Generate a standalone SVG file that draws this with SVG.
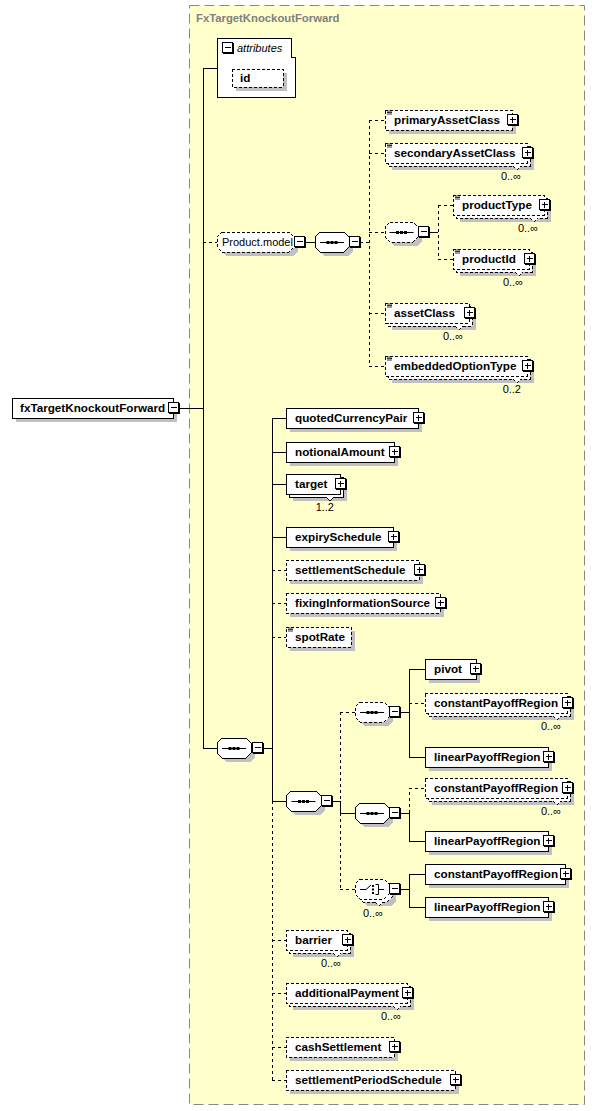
<svg xmlns="http://www.w3.org/2000/svg" xmlns:xlink="http://www.w3.org/1999/xlink" width="596" height="1111" viewBox="0 0 596 1111">
<style>
.box{fill:#fff;stroke:#000;stroke-width:1;shape-rendering:crispEdges}
.o{stroke-dasharray:3 2}
.sh{fill:#c0c0c0;stroke:none;shape-rendering:crispEdges}
.el{font-family:"Liberation Sans",Arial,sans-serif;font-weight:bold;font-size:11.7px;fill:#000}
.tx{font-family:"Liberation Sans",Arial,sans-serif;font-size:11px;fill:#000}
.it{font-family:"Liberation Sans",Arial,sans-serif;font-style:italic;font-size:11px;fill:#000}
.card{font-family:"Liberation Sans",Arial,sans-serif;font-size:11px;fill:#000;text-anchor:end}
.ln{fill:none;stroke:#000;stroke-width:1;shape-rendering:crispEdges}
.dl{fill:none;stroke:#000;stroke-width:1;stroke-dasharray:3 3;shape-rendering:crispEdges}
.ttl{font-family:"Liberation Sans",Arial,sans-serif;font-weight:bold;font-size:11.3px;fill:#808080}
</style>
<defs>
<g id="plus"><rect x="1" y="1" width="11" height="11" fill="#000" shape-rendering="crispEdges"/><rect x="0.5" y="0.5" width="10" height="10" fill="#fff" stroke="#000" shape-rendering="crispEdges"/><path d="M2.5 5.5H8.5M5.5 2.5V8.5" stroke="#000" shape-rendering="crispEdges"/></g>
<g id="minus"><rect x="1" y="1" width="11" height="11" fill="#000" shape-rendering="crispEdges"/><rect x="0.5" y="0.5" width="10" height="10" fill="#fff" stroke="#000" shape-rendering="crispEdges"/><path d="M2.5 5.5H8.5" stroke="#000" shape-rendering="crispEdges"/></g>
<g id="simp"><path d="M2 1H7M2 2.5H7M2 4H7" stroke="#000" stroke-width="0.8"/></g>
<g id="seqi"><path d="M0 0.5H24" stroke="#000"/><rect x="6.5" y="-1" width="3" height="3" fill="#000"/><rect x="10.5" y="-1" width="3" height="3" fill="#000"/><rect x="14.5" y="-1" width="3" height="3" fill="#000"/></g>
<g id="choi"><path d="M0 0.5H6L11 -4" stroke="#000" fill="none"/><rect x="12" y="-4" width="2" height="2" fill="#000"/><rect x="12" y="-0.5" width="2" height="2" fill="#000"/><rect x="12" y="3" width="2" height="2" fill="#000"/><path d="M15.5 -4.5H18.5V5.5H15.5M18.5 0.5H24" stroke="#000" fill="none"/></g>
</defs>

<rect x="189.5" y="5.5" width="395" height="1099" fill="#ffffcc" stroke="#888" stroke-dasharray="10 5"/>
<text class="ttl" x="196" y="22">FxTargetKnockoutForward</text>

<g id="connectors">
<path class="ln" d="M179 408H203M203 68V748M203 68H217M203 748H217M305 242H315M429 232H438M263 748H272M272 418V801M272 418H286M272 452H286M272 484H286M272 537H286M272 801H286M332 801H340M340 801V813M340 813H355M400 712H409M409 669V757M409 669H425M409 757H425M400 813H409M409 813V841M409 841H425M400 889H409M409 874V907M409 874H425M409 907H425"/>
<path class="dl" d="M203 242H217M360 242H369M369 120V366M369 120H385M369 153H385M369 232H385M369 313H385M369 366H385M438 205V259M438 205H453M438 259H453M272 801V1080M272 570H286M272 603H286M272 637H286M272 940H286M272 993H286M272 1047H286M272 1080H286M340 712V801M340 813V889M340 712H355M340 889H355M409 703H425M409 813V788M409 788H425"/>
</g>

<g id="fxTargetKnockoutForward">
<rect class="sh" x="16" y="402" width="161" height="20"/>
<rect class="box" x="12" y="398" width="161" height="20"/>
<text class="el" x="20" y="412">fxTargetKnockoutForward</text>
<use href="#minus" x="168" y="402"/>
</g>

<g id="attributes">
<polygon class="box" points="217,38 291,38 291,57 295,57 295,97 217,97"/>
<use href="#minus" x="222" y="42"/>
<text class="it" x="237" y="52">attributes</text>
</g>
<g id="id">
<rect class="sh" x="236" y="73" width="51" height="18"/>
<rect class="box o" x="232" y="69" width="51" height="18"/>
<text class="el" x="240" y="82">id</text>
</g>

<g id="Product.model">
<polygon class="sh" points="226,236 293,236 298,241 298,251 293,256 226,256 221,251 221,241"/>
<polygon class="box o" points="222,232 289,232 294,237 294,247 289,252 222,252 217,247 217,237"/>
<text class="tx" x="222" y="246">Product.model</text>
<use href="#minus" x="294" y="236"/>
</g>

<g id="seqProductModel">
<polygon class="sh" points="324,236 348,236 353,241 353,251 348,256 324,256 319,251 319,241"/>
<polygon class="box" points="320,232 344,232 349,237 349,247 344,252 320,252 315,247 315,237"/>
<use href="#seqi" x="320" y="242"/>
<use href="#minus" x="349" y="236"/>
</g>

<g id="primaryAssetClass">
<rect class="sh" x="389" y="114" width="127" height="20"/>
<rect class="box o" x="385" y="110" width="127" height="20"/>
<use href="#simp" x="385" y="110"/>
<text class="el" x="394" y="124">primaryAssetClass</text>
<use href="#plus" x="507" y="114"/>
</g>

<g id="secondaryAssetClass">
<rect class="sh" x="392" y="150" width="142" height="20"/>
<rect class="box o" x="388" y="146" width="142" height="20"/>
<polyline class="box o" points="513,166 517,170 521,166"/>
<rect class="box o" x="385" y="143" width="142" height="20"/>
<use href="#simp" x="385" y="143"/>
<text class="el" x="394" y="157">secondaryAssetClass</text>
<use href="#plus" x="522" y="147"/>
<text class="card" x="521" y="180">0..∞</text>
</g>

<g id="seqProductType">
<polygon class="sh" points="394,226 417,226 422,231 422,241 417,246 394,246 389,241 389,231"/>
<polygon class="box o" points="390,222 413,222 418,227 418,237 413,242 390,242 385,237 385,227"/>
<use href="#seqi" x="389.5" y="232"/>
<use href="#minus" x="418" y="226"/>
</g>

<g id="productType">
<rect class="sh" x="460" y="202" width="91" height="20"/>
<rect class="box o" x="456" y="198" width="91" height="20"/>
<polyline class="box o" points="530,218 534,222 538,218"/>
<rect class="box o" x="453" y="195" width="91" height="20"/>
<use href="#simp" x="453" y="195"/>
<text class="el" x="462" y="209">productType</text>
<use href="#plus" x="539" y="199"/>
<text class="card" x="538" y="232">0..∞</text>
</g>

<g id="productId">
<rect class="sh" x="460" y="256" width="76" height="20"/>
<rect class="box o" x="456" y="252" width="76" height="20"/>
<polyline class="box o" points="515,272 519,276 523,272"/>
<rect class="box o" x="453" y="249" width="76" height="20"/>
<use href="#simp" x="453" y="249"/>
<text class="el" x="462" y="263">productId</text>
<use href="#plus" x="524" y="253"/>
<text class="card" x="523" y="286">0..∞</text>
</g>

<g id="assetClass">
<rect class="sh" x="392" y="310" width="84" height="20"/>
<rect class="box o" x="388" y="306" width="84" height="20"/>
<polyline class="box o" points="455,326 459,330 463,326"/>
<rect class="box o" x="385" y="303" width="84" height="20"/>
<use href="#simp" x="385" y="303"/>
<text class="el" x="394" y="317">assetClass</text>
<use href="#plus" x="464" y="307"/>
<text class="card" x="463" y="340">0..∞</text>
</g>

<g id="embeddedOptionType">
<rect class="sh" x="392" y="363" width="142" height="20"/>
<rect class="box o" x="388" y="359" width="142" height="20"/>
<polyline class="box o" points="513,379 517,383 521,379"/>
<rect class="box o" x="385" y="356" width="142" height="20"/>
<use href="#simp" x="385" y="356"/>
<text class="el" x="394" y="370">embeddedOptionType</text>
<use href="#plus" x="522" y="360"/>
<text class="card" x="521" y="393">0..2</text>
</g>

<g id="mainSequence">
<polygon class="sh" points="226,742 250,742 255,747 255,757 250,762 226,762 221,757 221,747"/>
<polygon class="box" points="222,738 246,738 251,743 251,753 246,758 222,758 217,753 217,743"/>
<use href="#seqi" x="222" y="748"/>
<use href="#minus" x="252" y="742"/>
</g>

<g id="quotedCurrencyPair">
<rect class="sh" x="290" y="412" width="132" height="20"/>
<rect class="box" x="286" y="408" width="132" height="20"/>
<text class="el" x="295" y="422">quotedCurrencyPair</text>
<use href="#plus" x="413" y="412"/>
</g>

<g id="notionalAmount">
<rect class="sh" x="290" y="446" width="108" height="20"/>
<rect class="box" x="286" y="442" width="108" height="20"/>
<text class="el" x="295" y="456">notionalAmount</text>
<use href="#plus" x="389" y="446"/>
</g>

<g id="target">
<rect class="sh" x="293" y="481" width="54" height="20"/>
<rect class="box" x="289" y="477" width="54" height="20"/>
<polyline class="box" points="326,497 330,501 334,497"/>
<rect class="box" x="286" y="474" width="54" height="20"/>
<text class="el" x="295" y="488">target</text>
<use href="#plus" x="335" y="478"/>
<text class="card" x="334" y="511">1..2</text>
</g>

<g id="expirySchedule">
<rect class="sh" x="290" y="531" width="107" height="20"/>
<rect class="box" x="286" y="527" width="107" height="20"/>
<text class="el" x="295" y="541">expirySchedule</text>
<use href="#plus" x="388" y="531"/>
</g>

<g id="settlementSchedule">
<rect class="sh" x="290" y="564" width="133" height="20"/>
<rect class="box o" x="286" y="560" width="133" height="20"/>
<text class="el" x="295" y="574">settlementSchedule</text>
<use href="#plus" x="414" y="564"/>
</g>

<g id="fixingInformationSource">
<rect class="sh" x="290" y="597" width="154" height="20"/>
<rect class="box o" x="286" y="593" width="154" height="20"/>
<text class="el" x="295" y="607">fixingInformationSource</text>
<use href="#plus" x="435" y="597"/>
</g>

<g id="spotRate">
<rect class="sh" x="290" y="631" width="65" height="20"/>
<rect class="box o" x="286" y="627" width="65" height="20"/>
<use href="#simp" x="286" y="627"/>
<text class="el" x="295" y="641">spotRate</text>
</g>

<g id="sequence2">
<polygon class="sh" points="295,795 320,795 325,800 325,810 320,815 295,815 290,810 290,800"/>
<polygon class="box" points="291,791 316,791 321,796 321,806 316,811 291,811 286,806 286,796"/>
<use href="#seqi" x="291.5" y="801"/>
<use href="#minus" x="321" y="795"/>
</g>

<g id="sequence3">
<polygon class="sh" points="364,706 388,706 393,711 393,721 388,726 364,726 359,721 359,711"/>
<polygon class="box o" points="360,702 384,702 389,707 389,717 384,722 360,722 355,717 355,707"/>
<use href="#seqi" x="360" y="712"/>
<use href="#minus" x="389" y="706"/>
</g>

<g id="pivot">
<rect class="sh" x="429" y="663" width="51" height="20"/>
<rect class="box" x="425" y="659" width="51" height="20"/>
<text class="el" x="434" y="673">pivot</text>
<use href="#plus" x="470" y="663"/>
</g>

<g id="constantPayoffRegion1">
<rect class="sh" x="432" y="700" width="142" height="20"/>
<rect class="box o" x="428" y="696" width="142" height="20"/>
<polyline class="box o" points="553,716 557,720 561,716"/>
<rect class="box o" x="425" y="693" width="142" height="20"/>
<text class="el" x="434" y="707">constantPayoffRegion</text>
<use href="#plus" x="562" y="697"/>
<text class="card" x="561" y="730">0..∞</text>
</g>

<g id="linearPayoffRegion1">
<rect class="sh" x="429" y="751" width="123" height="20"/>
<rect class="box" x="425" y="747" width="123" height="20"/>
<text class="el" x="434" y="761">linearPayoffRegion</text>
<use href="#plus" x="543" y="751"/>
</g>

<g id="sequence4">
<polygon class="sh" points="364,807 388,807 393,812 393,822 388,827 364,827 359,822 359,812"/>
<polygon class="box" points="360,803 384,803 389,808 389,818 384,823 360,823 355,818 355,808"/>
<use href="#seqi" x="360" y="813"/>
<use href="#minus" x="389" y="807"/>
</g>

<g id="constantPayoffRegion2">
<rect class="sh" x="432" y="785" width="142" height="20"/>
<rect class="box o" x="428" y="781" width="142" height="20"/>
<polyline class="box o" points="553,801 557,805 561,801"/>
<rect class="box o" x="425" y="778" width="142" height="20"/>
<text class="el" x="434" y="792">constantPayoffRegion</text>
<use href="#plus" x="562" y="782"/>
<text class="card" x="561" y="815">0..∞</text>
</g>

<g id="linearPayoffRegion2">
<rect class="sh" x="429" y="835" width="123" height="20"/>
<rect class="box" x="425" y="831" width="123" height="20"/>
<text class="el" x="434" y="845">linearPayoffRegion</text>
<use href="#plus" x="543" y="835"/>
</g>

<g id="choice">
<polygon class="sh" points="367,886 391,886 396,891 396,901 391,906 367,906 362,901 362,891"/>
<polygon class="box o" points="363,882 387,882 392,887 392,897 387,902 363,902 358,897 358,887"/>
<polyline class="box o" points="375,902 379,906 383,902"/>
<polygon class="box o" points="360,879 384,879 389,884 389,894 384,899 360,899 355,894 355,884"/>
<use href="#choi" x="360" y="889"/>
<use href="#minus" x="389" y="883"/>
<text class="card" x="383" y="917">0..∞</text>
</g>

<g id="constantPayoffRegion3">
<rect class="sh" x="429" y="868" width="140" height="20"/>
<rect class="box" x="425" y="864" width="140" height="20"/>
<text class="el" x="434" y="878">constantPayoffRegion</text>
<use href="#plus" x="560" y="868"/>
</g>

<g id="linearPayoffRegion3">
<rect class="sh" x="429" y="901" width="123" height="20"/>
<rect class="box" x="425" y="897" width="123" height="20"/>
<text class="el" x="434" y="911">linearPayoffRegion</text>
<use href="#plus" x="543" y="901"/>
</g>

<g id="barrier">
<rect class="sh" x="293" y="937" width="61" height="20"/>
<rect class="box o" x="289" y="933" width="61" height="20"/>
<polyline class="box o" points="333,953 337,957 341,953"/>
<rect class="box o" x="286" y="930" width="61" height="20"/>
<text class="el" x="295" y="944">barrier</text>
<use href="#plus" x="342" y="934"/>
<text class="card" x="341" y="967">0..∞</text>
</g>

<g id="additionalPayment">
<rect class="sh" x="293" y="990" width="121" height="20"/>
<rect class="box o" x="289" y="986" width="121" height="20"/>
<polyline class="box o" points="393,1006 397,1010 401,1006"/>
<rect class="box o" x="286" y="983" width="121" height="20"/>
<text class="el" x="295" y="997">additionalPayment</text>
<use href="#plus" x="402" y="987"/>
<text class="card" x="401" y="1020">0..∞</text>
</g>

<g id="cashSettlement">
<rect class="sh" x="290" y="1041" width="108" height="20"/>
<rect class="box o" x="286" y="1037" width="108" height="20"/>
<text class="el" x="295" y="1051">cashSettlement</text>
<use href="#plus" x="389" y="1041"/>
</g>

<g id="settlementPeriodSchedule">
<rect class="sh" x="290" y="1074" width="169" height="20"/>
<rect class="box o" x="286" y="1070" width="169" height="20"/>
<text class="el" x="295" y="1084">settlementPeriodSchedule</text>
<use href="#plus" x="450" y="1074"/>
</g>
</svg>
